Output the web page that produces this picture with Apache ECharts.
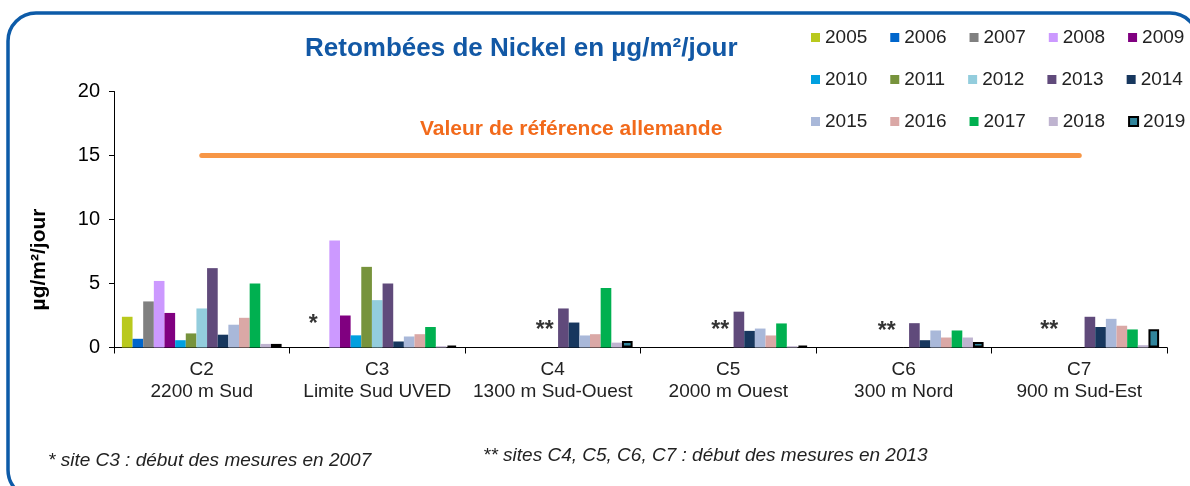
<!DOCTYPE html>
<html>
<head>
<meta charset="utf-8">
<title>Retombées de Nickel</title>
<script src="https://cdn.jsdelivr.net/npm/echarts@6/dist/echarts.min.js"></script>
<style>
html, body { margin: 0; padding: 0; background: #fff; }
#chart { width: 1190px; height: 486px; }
</style>
</head>
<body>
<div id="chart"></div>
<script>
// sites de mesure
const siteCodes = ['C2', 'C3', 'C4', 'C5', 'C6', 'C7']
const siteNames = ['2200 m Sud', 'Limite Sud UVED', '1300 m Sud-Ouest', '2000 m Ouest', '300 m Nord', '900 m Sud-Est']

const years = ['2005', '2006', '2007', '2008', '2009', '2010', '2011', '2012', '2013', '2014', '2015', '2016', '2017', '2018', '2019']

// valeurs par annee, dans l'ordre des sites (null = pas de mesure)
const v2005 = [2.4, null, null, null, null, null]
const v2006 = [0.68, null, null, null, null, null]
const v2007 = [3.6, null, null, null, null, null]
const v2008 = [5.2, 8.35, null, null, null, null]
const v2009 = [2.7, 2.5, null, null, null, null]
const v2010 = [0.57, 0.95, null, null, null, null]
const v2011 = [1.1, 6.3, null, null, null, null]
const v2012 = [3.05, 3.7, null, null, null, null]
const v2013 = [6.2, 5.0, 3.05, 2.8, 1.9, 2.4]
const v2014 = [1.0, 0.47, 1.95, 1.3, 0.57, 1.6]
const v2015 = [1.78, 0.86, 0.94, 1.48, 1.33, 2.24]
const v2016 = [2.32, 1.04, 1.04, 0.94, 0.78, 1.7]
const v2017 = [5.0, 1.6, 4.65, 1.88, 1.33, 1.41]
const v2018 = [0.28, 0.1, 0.38, 0.1, 0.78, 0.18]
const v2019 = [0.28, 0.15, 0.5, 0.15, 0.42, 1.42]

const yearValues = [v2005, v2006, v2007, v2008, v2009, v2010, v2011, v2012, v2013, v2014, v2015, v2016, v2017, v2018, v2019]

// valeur de reference allemande
const refValue = 15

// renvois (* et **) au-dessus des sites
const noteSites = [1, 2, 3, 4, 5]
const noteMarks = ['*', '**', '**', '**', '**']
const noteLevels = [1.8, 1.3, 1.3, 1.2, 1.35]

const yearColors = ['#B9C91D', '#0066CC', '#808080', '#CC99FF', '#800080', '#00A0E0', '#77933C', '#93CDDD',
	'#604A7B', '#17375E', '#A9B8D9', '#DAA8A6', '#00B050', '#BFB4D0', '#31859C']
const noteShift = [-64, -8, -8, -17, -30]

const FONT = '"Liberation Sans", Arial, sans-serif'

const chart = echarts.init(document.getElementById('chart'))

const barSeries = years.map((year, i) => ({
	name: year,
	type: 'bar',
	barGap: '0%',
	barCategoryGap: '9%',
	data: yearValues[i],
	itemStyle: i === years.length - 1
		? { color: yearColors[i], borderColor: '#000', borderWidth: 2 }
		: { color: yearColors[i] }
}))

const options = {
	animation: false,
	textStyle: { fontFamily: FONT },
	title: {
		text: 'Retombées de Nickel en µg/m²/jour',
		left: 300,
		top: 31,
		textStyle: { color: '#1258A5', fontSize: 26, fontWeight: 'bold', fontFamily: FONT }
	},
	legend: {
		data: years,
		left: 811,
		top: 28,
		width: 380,
		padding: 0,
		itemWidth: 9,
		itemHeight: 9,
		itemGap: 23,
		icon: 'rect',
		textStyle: { fontSize: 19, color: '#222', fontFamily: FONT }
	},
	grid: {
		left: 114,
		right: 23,
		top: 91.5,
		bottom: 138.5
	},
	xAxis: {
		type: 'category',
		data: siteCodes.map((c, i) => c + '\n' + siteNames[i]),
		axisLine: { lineStyle: { color: '#000', width: 1 } },
		axisTick: { show: true, interval: 0, length: 6, lineStyle: { color: '#000' } },
		axisLabel: {
			interval: 0,
			color: '#222',
			fontSize: 19,
			lineHeight: 22,
			margin: 11,
			fontFamily: FONT
		}
	},
	yAxis: {
		type: 'value',
		min: 0,
		max: 20,
		interval: 5,
		name: 'µg/m²/jour',
		nameLocation: 'middle',
		nameGap: 64,
		nameTextStyle: { fontSize: 21, fontWeight: 'bold', color: '#000', fontFamily: FONT, padding: [0, 80, 0, 0] },
		axisLine: { show: true, lineStyle: { color: '#000', width: 1 } },
		axisTick: { show: true, length: 5, lineStyle: { color: '#000' } },
		splitLine: { show: false },
		axisLabel: { color: '#000', fontSize: 20, margin: 14, fontFamily: FONT }
	},
	series: [
		...barSeries,
		{
			name: 'ref',
			type: 'line',
			data: [],
			markLine: {
				silent: true,
				symbol: 'none',
				label: { show: false },
				lineStyle: { color: '#F79646', width: 5, type: 'solid', cap: 'round' },
				data: [[{ coord: [0, refValue] }, { coord: [siteCodes.length - 1, refValue] }]]
			}
		},
		{
			name: 'notes',
			type: 'scatter',
			symbolSize: 0,
			data: noteSites.map((s, i) => ({
				value: [s, noteLevels[i]],
				label: { offset: [noteShift[i], 0] }
			})),
			label: {
				show: true,
				position: 'inside',
				formatter: p => noteMarks[p.dataIndex],
				fontSize: 23,
				fontWeight: 'bold',
				color: '#000',
				fontFamily: FONT
			}
		}
	],
	graphic: [
		{
			type: 'rect',
			shape: { x: 8, y: 13, width: 1190, height: 485, r: 28 },
			style: { fill: 'none', stroke: '#0D5BA8', lineWidth: 3.5 },
			silent: true
		},
		{
			type: 'text',
			left: 420,
			top: 119,
			style: { text: 'Valeur de référence allemande', fill: '#F26A1B', font: 'bold 21px ' + FONT }
		},
		{
			type: 'text',
			left: 48,
			top: 451,
			style: { text: '* site C3 : début des mesures en 2007', fill: '#222', font: 'italic 19px ' + FONT }
		},
		{
			type: 'text',
			left: 483,
			top: 446,
			style: { text: '** sites C4, C5, C6, C7 : début des mesures en 2013', fill: '#222', font: 'italic 19px ' + FONT }
		}
	]
}

chart.setOption(options)
</script>
</body>
</html>
